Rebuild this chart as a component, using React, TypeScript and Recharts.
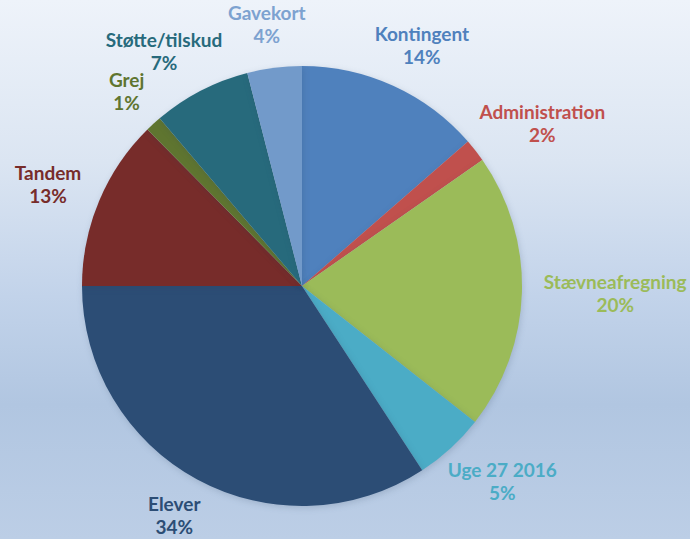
import React from 'react';
import { PieChart, Pie, Cell } from 'recharts';

const categories = ['Kontingent', 'Administration', 'Stævneafregning', 'Uge 27 2016', 'Elever', 'Tandem', 'Grej', 'Støtte/tilskud', 'Gavekort'];
const values = [13.6, 1.7, 20.3, 5.2, 34.2, 12.6, 1.2, 7.2, 4.0];
const colors = ['#4f81bd', '#c0504d', '#9bbb59', '#4bacc6', '#2c4d75', '#772c2a', '#5f7530', '#276a7c', '#729aca'];
const labelColors = ['#4f81bd', '#c0504d', '#9bbb59', '#4bacc6', '#2c4d75', '#772c2a', '#5f7530', '#276a7c', '#7da2d0'];

const data = categories.map((name, i) => ({ name, value: values[i] }));

const W = 690;
const H = 539;
const FONT_SIZE = 19;
const FONT = `bold ${FONT_SIZE}px Lato`;
const LINE_H = 23;

let ctx: CanvasRenderingContext2D | null = null;
function measure(text: string): number {
  if (typeof document !== 'undefined') {
    if (!ctx) ctx = document.createElement('canvas').getContext('2d');
    if (ctx) {
      ctx.font = FONT;
      return ctx.measureText(text).width;
    }
  }
  return text.length * FONT_SIZE * 0.55;
}

const renderLabel = (props: any) => {
  const { cx, cy, midAngle, outerRadius, percent, index, name } = props;
  const rad = (Math.PI / 180) * midAngle;
  const dx = Math.cos(rad);
  const dy = -Math.sin(rad);
  const pct = `${Math.round(percent * 100)}%`;
  const w = Math.max(measure(name), measure(pct));
  const h = LINE_H * 2;
  const gap = 22;
  let x = cx + (outerRadius + gap) * dx + (dx * w) / 2;
  let y = cy + (outerRadius + gap) * dy + (dy * h) / 2;
  x = Math.min(Math.max(x, w / 2 + 2), W - w / 2 - 2);
  y = Math.min(Math.max(y, h / 2 + 1), H - h / 2 - 1);
  return (
    <text
      x={x}
      y={y}
      textAnchor="middle"
      fill={labelColors[index]}
      style={{ fontFamily: 'Lato', fontWeight: 700, fontSize: FONT_SIZE }}
    >
      <tspan x={x} y={y - LINE_H / 2} dominantBaseline="central">{name}</tspan>
      <tspan x={x} y={y + LINE_H / 2} dominantBaseline="central">{pct}</tspan>
    </text>
  );
};

export default function App() {
  return (
    <div
      style={{
        position: 'absolute',
        left: 0,
        top: 0,
        width: W,
        height: H,
        background: 'linear-gradient(to bottom, #eef3fa 0%, #dbe5f2 30%, #c2d3ea 55%, #b1c6e1 75%, #bccee6 100%)',
      }}
    >
      <style>{`.recharts-pie-sector { filter: drop-shadow(1px 2px 3px rgba(40,60,90,0.18)); }`}</style>
      <PieChart width={W} height={H} margin={{ top: 0, right: 0, bottom: 0, left: 0 }}>
        <Pie
          data={data}
          dataKey="value"
          nameKey="name"
          cx={302}
          cy={286}
          outerRadius={220}
          startAngle={90}
          endAngle={-270}
          stroke="none"
          label={renderLabel}
          labelLine={false}
          isAnimationActive={false}
        >
          {data.map((d, i) => (
            <Cell key={d.name} fill={colors[i]} />
          ))}
        </Pie>
      </PieChart>
    </div>
  );
}
